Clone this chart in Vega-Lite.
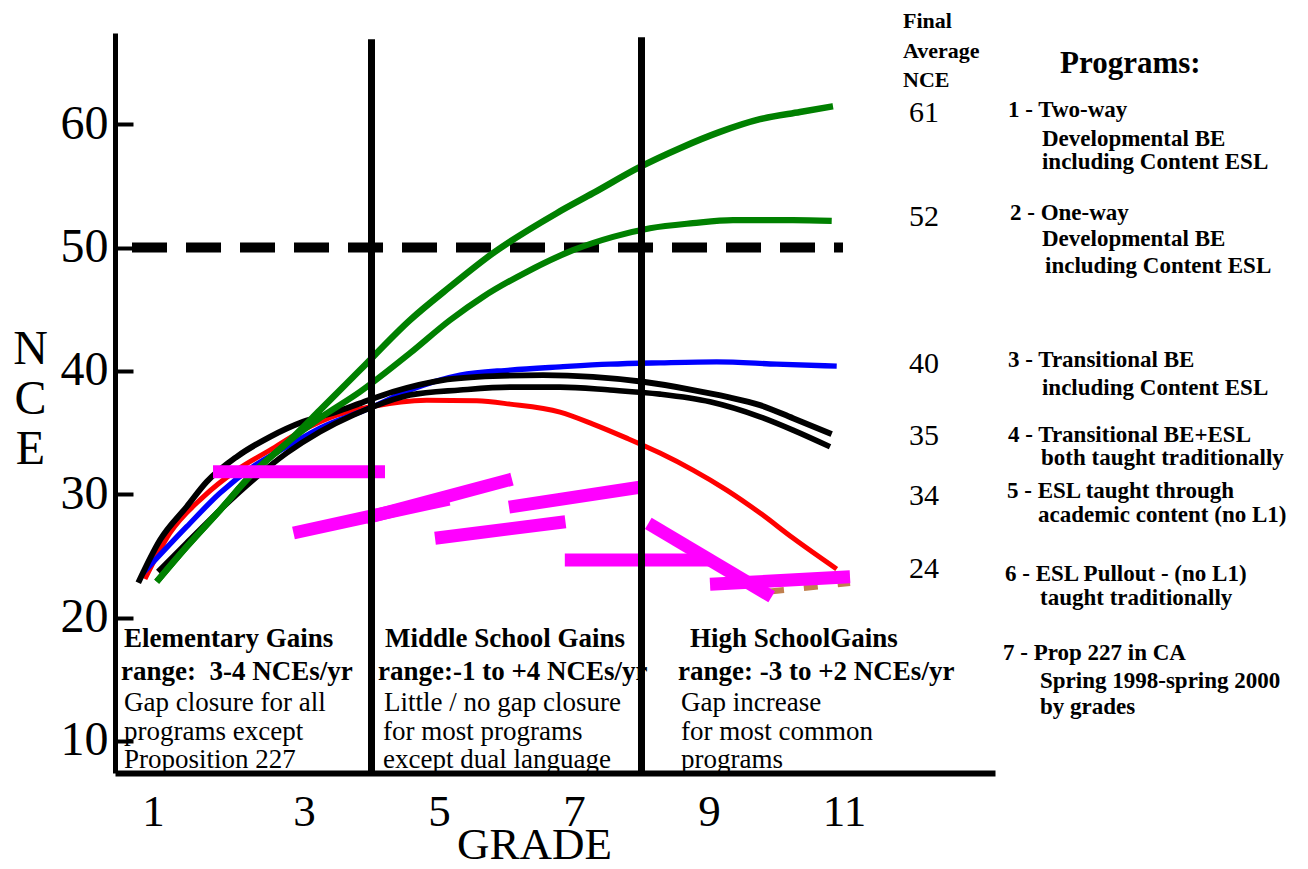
{
  "$schema": "https://vega.github.io/schema/vega-lite/v6.json",
  "width": 880,
  "height": 740,
  "autosize": {"type": "none"},
  "padding": {"left": 115, "top": 33, "right": 313, "bottom": 96},
  "background": "white",
  "config": {"view": {"stroke": null}, "font": "Liberation Serif"},
  "datasets": {
    "benchmark": [{"grade": 0.452, "grade2": 10.985, "nce": 50}],
    "curves": [
      {"program": "6", "grade": 0.644, "nce": 23.13}, {"program": "6", "grade": 1.015, "nce": 26.86}, {"program": "6", "grade": 1.504, "nce": 29.77}, {"program": "6", "grade": 2.003, "nce": 31.96}, {"program": "6", "grade": 2.496, "nce": 33.58}, {"program": "6", "grade": 2.985, "nce": 35.2}, {"program": "6", "grade": 3.484, "nce": 36.42}, {"program": "6", "grade": 3.978, "nce": 37.09}, {"program": "6", "grade": 4.818, "nce": 37.63}, {"program": "6", "grade": 5.559, "nce": 37.58}, {"program": "6", "grade": 6.052, "nce": 37.31}, {"program": "6", "grade": 6.793, "nce": 36.66}, {"program": "6", "grade": 7.281, "nce": 35.69}, {"program": "6", "grade": 7.781, "nce": 34.55}, {"program": "6", "grade": 8.274, "nce": 33.34}, {"program": "6", "grade": 8.763, "nce": 31.96}, {"program": "6", "grade": 9.262, "nce": 30.34}, {"program": "6", "grade": 9.756, "nce": 28.48}, {"program": "6", "grade": 10.244, "nce": 26.45}, {"program": "6", "grade": 10.892, "nce": 23.94},
      {"program": "3", "grade": 0.615, "nce": 23.61}, {"program": "3", "grade": 1.262, "nce": 27.37}, {"program": "3", "grade": 1.756, "nce": 30.1}, {"program": "3", "grade": 2.244, "nce": 32.23}, {"program": "3", "grade": 2.744, "nce": 33.85}, {"program": "3", "grade": 3.237, "nce": 35.37}, {"program": "3", "grade": 3.978, "nce": 36.99}, {"program": "3", "grade": 4.57, "nce": 38.45}, {"program": "3", "grade": 5.311, "nce": 39.66}, {"program": "3", "grade": 6.052, "nce": 40.07}, {"program": "3", "grade": 6.793, "nce": 40.33}, {"program": "3", "grade": 7.533, "nce": 40.55}, {"program": "3", "grade": 8.274, "nce": 40.66}, {"program": "3", "grade": 9.114, "nce": 40.74}, {"program": "3", "grade": 10.003, "nce": 40.55}, {"program": "3", "grade": 10.892, "nce": 40.39},
      {"program": "5", "grade": 0.837, "nce": 23.72}, {"program": "5", "grade": 1.262, "nce": 26.05}, {"program": "5", "grade": 1.756, "nce": 28.72}, {"program": "5", "grade": 2.244, "nce": 31.15}, {"program": "5", "grade": 2.744, "nce": 33.34}, {"program": "5", "grade": 3.237, "nce": 35.07}, {"program": "5", "grade": 3.726, "nce": 36.42}, {"program": "5", "grade": 4.022, "nce": 37.09}, {"program": "5", "grade": 4.57, "nce": 38.04}, {"program": "5", "grade": 5.311, "nce": 38.45}, {"program": "5", "grade": 6.052, "nce": 38.69}, {"program": "5", "grade": 6.793, "nce": 38.69}, {"program": "5", "grade": 7.533, "nce": 38.45}, {"program": "5", "grade": 8.274, "nce": 38.12}, {"program": "5", "grade": 9.015, "nce": 37.5}, {"program": "5", "grade": 9.756, "nce": 36.28}, {"program": "5", "grade": 10.244, "nce": 35.2}, {"program": "5", "grade": 10.793, "nce": 33.85},
      {"program": "4", "grade": 0.545, "nce": 22.83}, {"program": "4", "grade": 0.867, "nce": 26.29}, {"program": "4", "grade": 1.262, "nce": 28.99}, {"program": "4", "grade": 1.559, "nce": 31.01}, {"program": "4", "grade": 2.003, "nce": 33.04}, {"program": "4", "grade": 2.496, "nce": 34.66}, {"program": "4", "grade": 2.985, "nce": 35.88}, {"program": "4", "grade": 3.484, "nce": 36.69}, {"program": "4", "grade": 3.83, "nce": 37.37}, {"program": "4", "grade": 4.319, "nce": 38.31}, {"program": "4", "grade": 5.059, "nce": 39.26}, {"program": "4", "grade": 5.8, "nce": 39.58}, {"program": "4", "grade": 6.541, "nce": 39.66}, {"program": "4", "grade": 7.281, "nce": 39.52}, {"program": "4", "grade": 8.022, "nce": 39.12}, {"program": "4", "grade": 8.763, "nce": 38.45}, {"program": "4", "grade": 9.267, "nce": 37.9}, {"program": "4", "grade": 9.756, "nce": 37.23}, {"program": "4", "grade": 10.244, "nce": 36.17}, {"program": "4", "grade": 10.818, "nce": 34.88},
      {"program": "2", "grade": 0.818, "nce": 22.91}, {"program": "2", "grade": 1.262, "nce": 25.75}, {"program": "2", "grade": 1.756, "nce": 28.72}, {"program": "2", "grade": 2.244, "nce": 31.72}, {"program": "2", "grade": 2.744, "nce": 34.15}, {"program": "2", "grade": 3.237, "nce": 36.18}, {"program": "2", "grade": 3.83, "nce": 38.31}, {"program": "2", "grade": 4.57, "nce": 41.44}, {"program": "2", "grade": 5.163, "nce": 44.12}, {"program": "2", "grade": 5.652, "nce": 46.01}, {"program": "2", "grade": 6.299, "nce": 48.03}, {"program": "2", "grade": 6.985, "nce": 49.79}, {"program": "2", "grade": 7.578, "nce": 50.87}, {"program": "2", "grade": 8.126, "nce": 51.57}, {"program": "2", "grade": 8.763, "nce": 51.98}, {"program": "2", "grade": 9.356, "nce": 52.22}, {"program": "2", "grade": 10.244, "nce": 52.22}, {"program": "2", "grade": 10.818, "nce": 52.16},
      {"program": "1", "grade": 0.818, "nce": 22.91}, {"program": "1", "grade": 1.262, "nce": 25.75}, {"program": "1", "grade": 1.756, "nce": 28.72}, {"program": "1", "grade": 2.244, "nce": 31.72}, {"program": "1", "grade": 2.744, "nce": 34.15}, {"program": "1", "grade": 3.237, "nce": 36.82}, {"program": "1", "grade": 3.83, "nce": 40.07}, {"program": "1", "grade": 4.57, "nce": 44.12}, {"program": "1", "grade": 5.163, "nce": 46.82}, {"program": "1", "grade": 5.8, "nce": 49.55}, {"program": "1", "grade": 6.744, "nce": 52.79}, {"program": "1", "grade": 7.281, "nce": 54.41}, {"program": "1", "grade": 7.978, "nce": 56.54}, {"program": "1", "grade": 8.57, "nce": 58.06}, {"program": "1", "grade": 9.163, "nce": 59.38}, {"program": "1", "grade": 9.756, "nce": 60.41}, {"program": "1", "grade": 10.348, "nce": 61.0}, {"program": "1", "grade": 10.837, "nce": 61.46}
    ],
    "prop227_trace": [{"grade": 9.904, "nce": 22.12, "grade2": 11.089, "nce2": 22.8}],
    "prop227": [
      {"grade": 1.652, "nce": 31.82, "grade2": 4.2, "nce2": 31.82},
      {"grade": 2.844, "nce": 26.86, "grade2": 5.148, "nce2": 29.61},
      {"grade": 3.919, "nce": 28.07, "grade2": 6.081, "nce2": 31.23},
      {"grade": 6.037, "nce": 28.96, "grade2": 8.022, "nce2": 30.61},
      {"grade": 4.941, "nce": 26.43, "grade2": 6.874, "nce2": 27.77},
      {"grade": 6.864, "nce": 24.67, "grade2": 9.015, "nce2": 24.67},
      {"grade": 8.101, "nce": 27.64, "grade2": 9.929, "nce2": 21.69},
      {"grade": 9.015, "nce": 22.7, "grade2": 11.089, "nce2": 23.31}
    ],
    "dividers": [
      {"grade": 4, "nce": 7.4, "nce2": 66.89},
      {"grade": 8, "nce": 7.4, "nce2": 67.05}
    ],
    "labels": [
      {"role": "zone_head", "grade": 0.333, "nce": 17.62, "text": "Elementary Gains"},
      {"role": "zone_head", "grade": 0.289, "nce": 14.94, "text": "range:\u00a0 3-4 NCEs/yr"},
      {"role": "zone_head", "grade": 4.2, "nce": 17.62, "text": "Middle School Gains"},
      {"role": "zone_head", "grade": 4.096, "nce": 14.94, "text": "range:-1 to +4 NCEs/yr"},
      {"role": "zone_head", "grade": 8.719, "nce": 17.62, "text": "High SchoolGains"},
      {"role": "zone_head", "grade": 8.541, "nce": 14.94, "text": "range: -3 to +2 NCEs/yr"},
      {"role": "zone_note", "grade": 0.333, "nce": 12.43, "text": "Gap closure for all"},
      {"role": "zone_note", "grade": 0.333, "nce": 10.08, "text": "programs except"},
      {"role": "zone_note", "grade": 0.333, "nce": 7.81, "text": "Proposition 227"},
      {"role": "zone_note", "grade": 4.185, "nce": 12.43, "text": "Little / no gap closure"},
      {"role": "zone_note", "grade": 4.17, "nce": 10.08, "text": "for most programs"},
      {"role": "zone_note", "grade": 4.17, "nce": 7.81, "text": "except dual language"},
      {"role": "zone_note", "grade": 8.585, "nce": 12.43, "text": "Gap increase"},
      {"role": "zone_note", "grade": 8.585, "nce": 10.08, "text": "for most common"},
      {"role": "zone_note", "grade": 8.585, "nce": 7.81, "text": "programs"},
      {"role": "col_head", "grade": 11.874, "nce": 67.78, "text": "Final"},
      {"role": "col_head", "grade": 11.874, "nce": 65.35, "text": "Average"},
      {"role": "col_head", "grade": 11.874, "nce": 63.0, "text": "NCE"},
      {"role": "final", "grade": 12.185, "nce": 60.2, "text": "61"},
      {"role": "final", "grade": 12.185, "nce": 51.76, "text": "52"},
      {"role": "final", "grade": 12.185, "nce": 39.82, "text": "40"},
      {"role": "final", "grade": 12.185, "nce": 33.99, "text": "35"},
      {"role": "final", "grade": 12.185, "nce": 29.13, "text": "34"},
      {"role": "final", "grade": 12.185, "nce": 23.21, "text": "24"},
      {"role": "prog_head", "grade": 14.2, "nce": 64.13, "text": "Programs:"},
      {"role": "prog", "grade": 13.43, "nce": 60.57, "text": "1 - Two-way"},
      {"role": "prog", "grade": 13.933, "nce": 58.22, "text": "Developmental BE"},
      {"role": "prog", "grade": 13.933, "nce": 56.36, "text": "including Content ESL"},
      {"role": "prog", "grade": 13.459, "nce": 52.22, "text": "2 - One-way"},
      {"role": "prog", "grade": 13.933, "nce": 50.11, "text": "Developmental BE"},
      {"role": "prog", "grade": 13.978, "nce": 47.93, "text": "including Content ESL"},
      {"role": "prog", "grade": 13.43, "nce": 40.31, "text": "3 - Transitional BE"},
      {"role": "prog", "grade": 13.933, "nce": 38.04, "text": "including Content ESL"},
      {"role": "prog", "grade": 13.43, "nce": 34.23, "text": "4 - Transitional BE+ESL"},
      {"role": "prog", "grade": 13.919, "nce": 32.37, "text": "both taught traditionally"},
      {"role": "prog", "grade": 13.415, "nce": 29.69, "text": "5 - ESL taught through"},
      {"role": "prog", "grade": 13.874, "nce": 27.75, "text": "academic content (no L1)"},
      {"role": "prog", "grade": 13.385, "nce": 22.97, "text": "6 - ESL Pullout - (no L1)"},
      {"role": "prog", "grade": 13.904, "nce": 21.02, "text": "taught traditionally"},
      {"role": "prog", "grade": 13.356, "nce": 16.56, "text": "7 - Prop 227 in CA"},
      {"role": "prog", "grade": 13.904, "nce": 14.3, "text": "Spring 1998-spring 2000"},
      {"role": "prog", "grade": 13.904, "nce": 12.19, "text": "by grades"}
    ]
  },
  "encoding": {
    "x": {"field": "grade", "type": "quantitative", "scale": {"domain": [0.2, 13.237], "nice": false, "zero": false},
      "axis": {"title": "GRADE", "values": [1, 3, 5, 7, 9, 11], "grid": false, "ticks": false, "domainColor": "black", "domainWidth": 6,
        "labelFont": "Liberation Serif", "labelFontSize": 45, "labelColor": "black", "labelPadding": 16, "labelFlush": false, "labelOverlap": false,
        "labelOffset": {"condition": {"test": "datum.value === 1", "value": -16}, "value": 0},
        "titleFont": "Liberation Serif", "titleFontSize": 45, "titleFontWeight": "normal", "titleColor": "black",
        "titleX": 419, "titleY": 85, "titleAlign": "center", "titleBaseline": "alphabetic"}},
    "y": {"field": "nce", "type": "quantitative", "scale": {"domain": [7.4, 67.4], "nice": false, "zero": false},
      "axis": {"title": ["N", "C", "E"], "values": [10, 20, 30, 40, 50, 60], "grid": false, "domainColor": "black", "domainWidth": 5,
        "ticks": true, "tickColor": "black", "tickWidth": 4, "tickSize": -18,
        "labelFont": "Liberation Serif", "labelFontSize": 48, "labelColor": "black", "labelPadding": 25, "labelFlush": false, "labelOverlap": false,
        "titleFont": "Liberation Serif", "titleFontSize": 48, "titleFontWeight": "normal", "titleColor": "black", "titleAngle": 0,
        "titleX": -85, "titleY": 330, "titleAlign": "center", "titleBaseline": "alphabetic", "titleLineHeight": 50}}
  },
  "layer": [
    {
      "data": {"name": "benchmark"},
      "mark": {"type": "rule", "color": "black", "strokeWidth": 10, "strokeDash": [35, 19], "strokeCap": "butt"},
      "encoding": {"x2": {"field": "grade2"}}
    },
    {
      "data": {"name": "curves"},
      "mark": {"type": "line", "interpolate": "monotone", "strokeCap": "butt"},
      "encoding": {
        "color": {"field": "program", "type": "nominal", "scale": {"domain": ["6", "3", "5", "4", "2", "1"], "range": ["#FF0000", "#0000FF", "#000000", "#000000", "#008000", "#008000"]}, "legend": null},
        "strokeWidth": {"field": "program", "type": "ordinal", "scale": {"domain": ["6", "3", "5", "4", "2", "1"], "range": [5, 6.5, 5, 8, 6, 6]}, "legend": null}
      }
    },
    {
      "data": {"name": "prop227_trace"},
      "mark": {"type": "rule", "color": "#C0804F", "strokeWidth": 6, "strokeDash": [14, 20], "strokeCap": "butt"},
      "encoding": {"x2": {"field": "grade2"}, "y2": {"field": "nce2"}}
    },
    {
      "data": {"name": "prop227"},
      "mark": {"type": "rule", "color": "#FF00FF", "strokeWidth": 13, "strokeCap": "butt"},
      "encoding": {"x2": {"field": "grade2"}, "y2": {"field": "nce2"}}
    },
    {
      "data": {"name": "labels"},
      "transform": [{"filter": "datum.role === 'zone_head'"}],
      "mark": {"type": "text", "align": "left", "baseline": "alphabetic", "font": "Liberation Serif", "fontSize": 27, "fontWeight": "bold", "color": "black"},
      "encoding": {"text": {"field": "text"}}
    },
    {
      "data": {"name": "labels"},
      "transform": [{"filter": "datum.role === 'zone_note'"}],
      "mark": {"type": "text", "align": "left", "baseline": "alphabetic", "font": "Liberation Serif", "fontSize": 27, "fontWeight": "normal", "color": "black"},
      "encoding": {"text": {"field": "text"}}
    },
    {
      "data": {"name": "labels"},
      "transform": [{"filter": "datum.role === 'col_head'"}],
      "mark": {"type": "text", "align": "left", "baseline": "alphabetic", "font": "Liberation Serif", "fontSize": 22, "fontWeight": "bold", "color": "black"},
      "encoding": {"text": {"field": "text"}}
    },
    {
      "data": {"name": "labels"},
      "transform": [{"filter": "datum.role === 'final'"}],
      "mark": {"type": "text", "align": "center", "baseline": "alphabetic", "font": "Liberation Serif", "fontSize": 30, "fontWeight": "normal", "color": "black"},
      "encoding": {"text": {"field": "text"}}
    },
    {
      "data": {"name": "labels"},
      "transform": [{"filter": "datum.role === 'prog_head'"}],
      "mark": {"type": "text", "align": "left", "baseline": "alphabetic", "font": "Liberation Serif", "fontSize": 31, "fontWeight": "bold", "color": "black"},
      "encoding": {"text": {"field": "text"}}
    },
    {
      "data": {"name": "labels"},
      "transform": [{"filter": "datum.role === 'prog'"}],
      "mark": {"type": "text", "align": "left", "baseline": "alphabetic", "font": "Liberation Serif", "fontSize": 23, "fontWeight": "bold", "color": "black"},
      "encoding": {"text": {"field": "text"}}
    },
    {
      "data": {"name": "dividers"},
      "mark": {"type": "rule", "color": "black", "strokeWidth": 7, "strokeCap": "butt"},
      "encoding": {"y2": {"field": "nce2"}}
    }
  ]
}
